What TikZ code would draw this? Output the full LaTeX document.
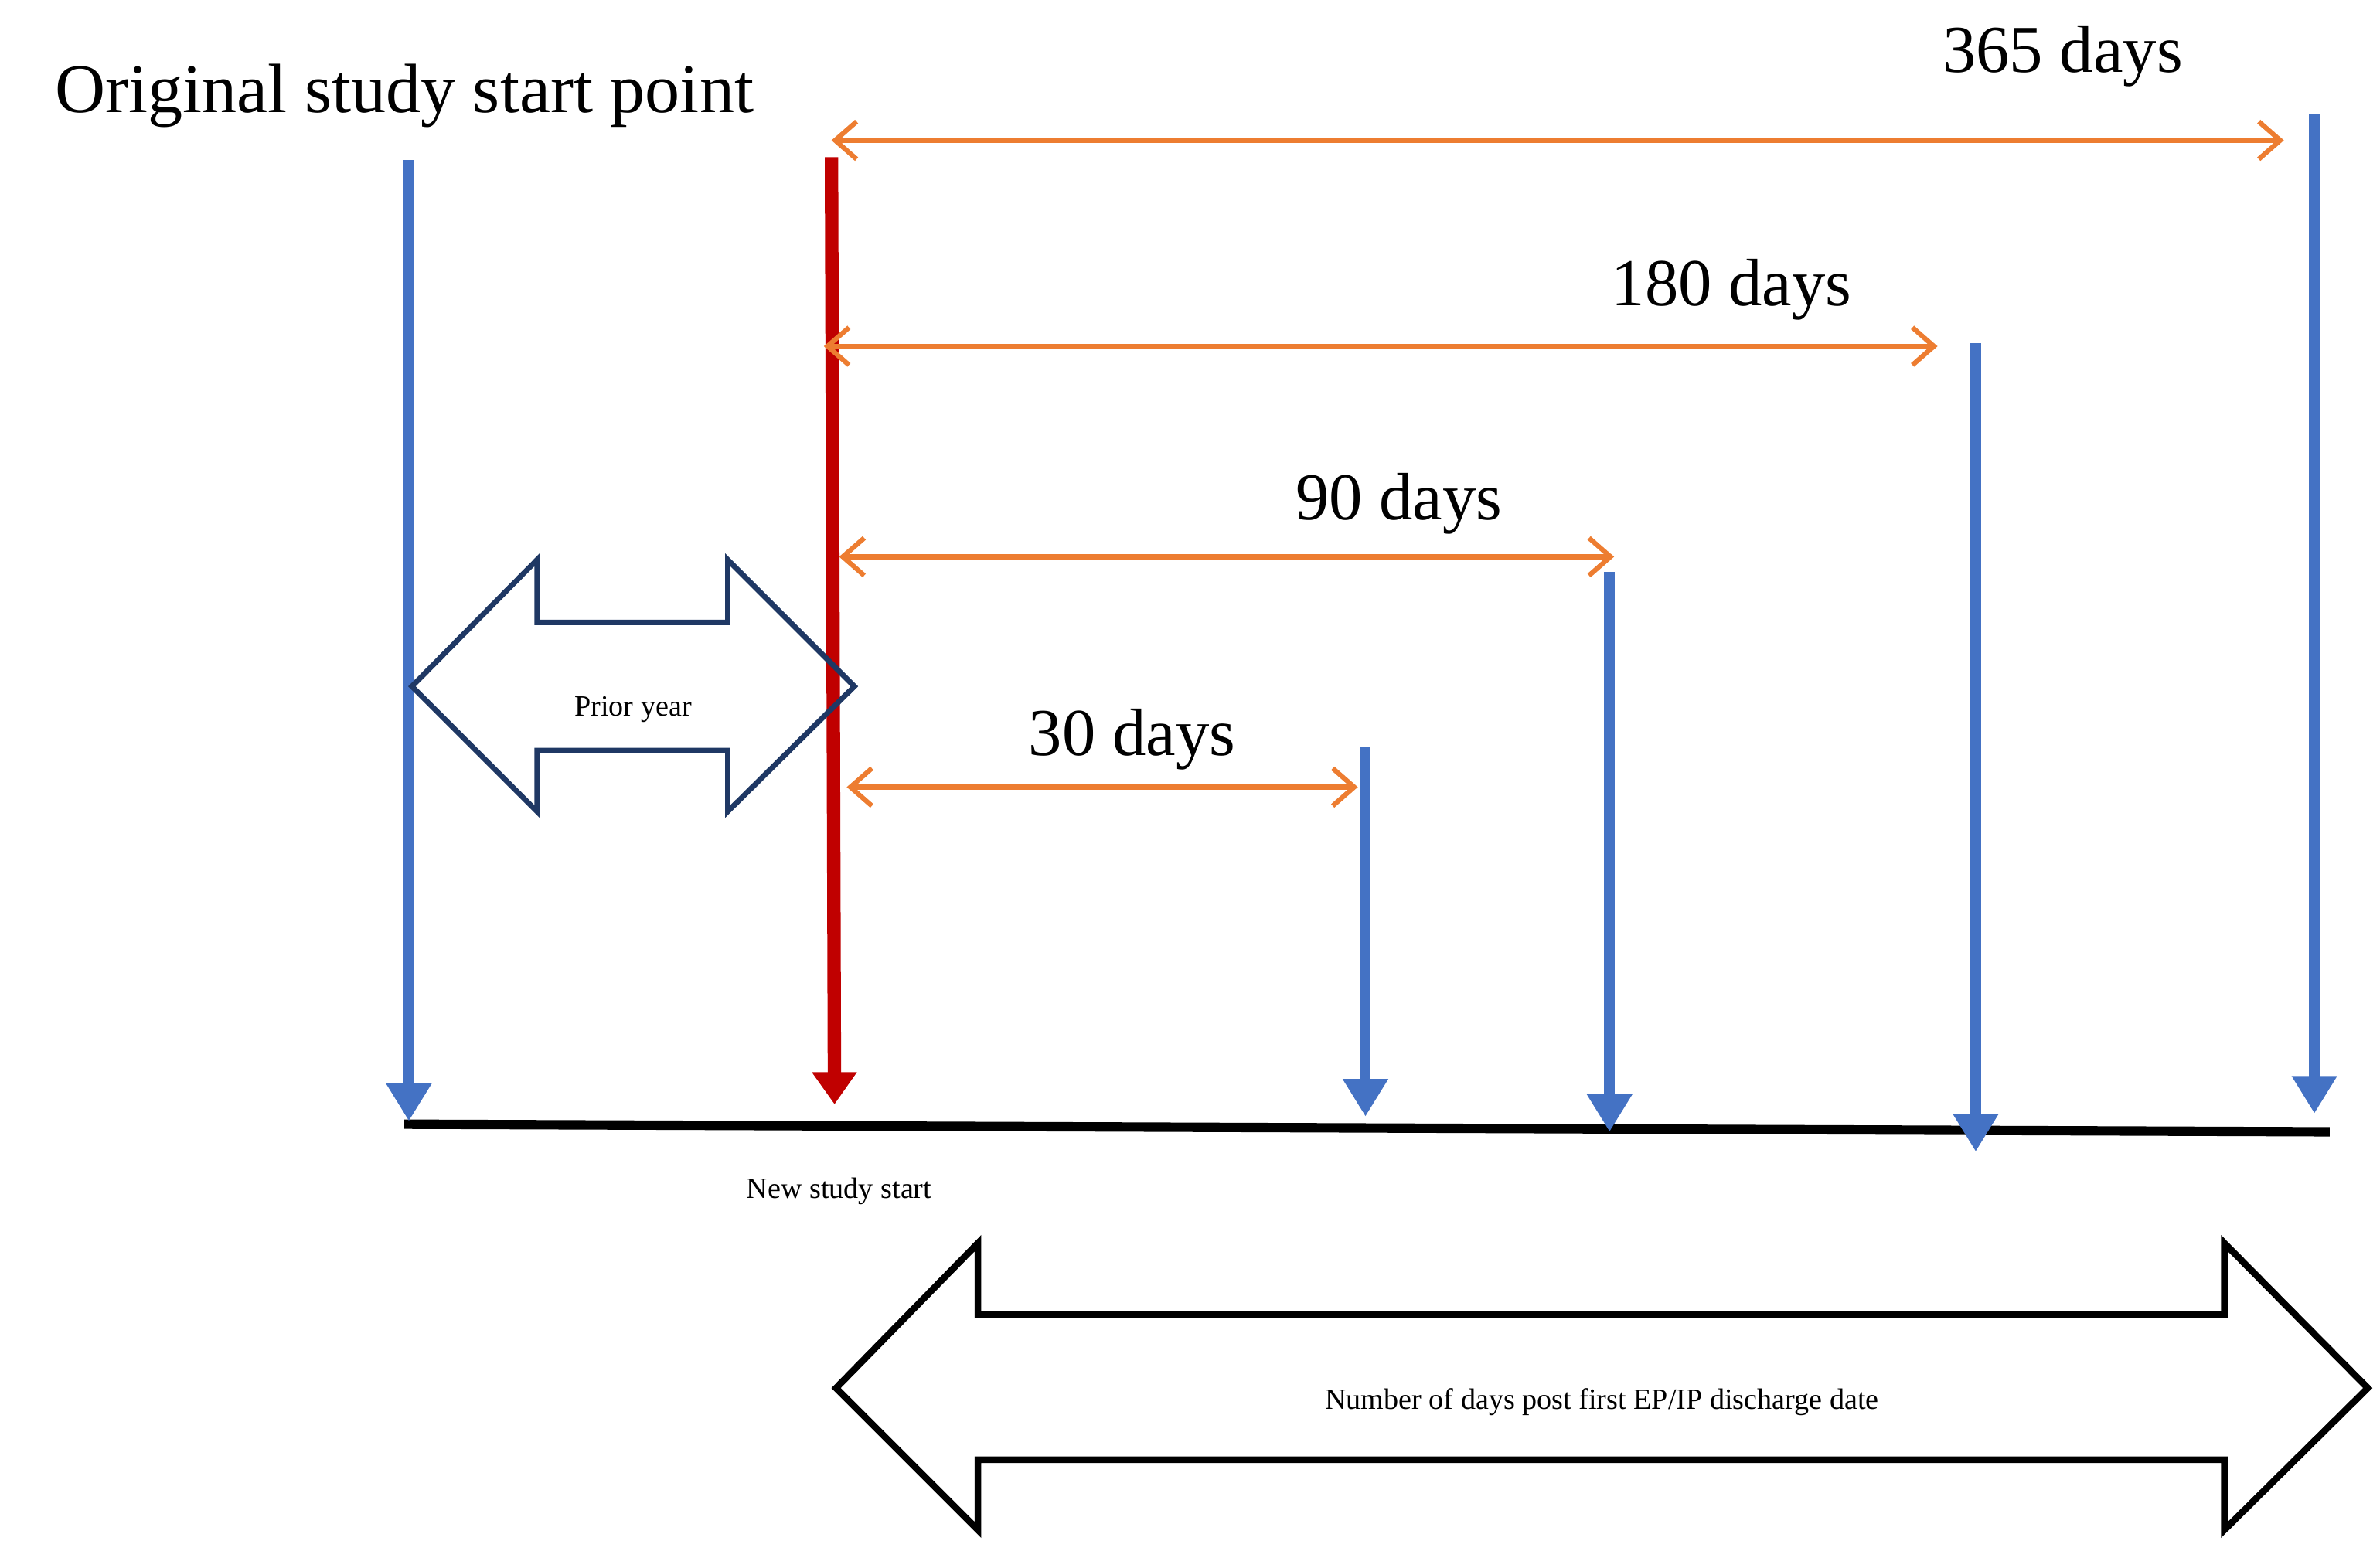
\documentclass[tikz,border=0pt]{standalone}
\usepackage{fontspec}
\setmainfont{Liberation Serif}
\usetikzlibrary{arrows.meta}
\definecolor{bl}{HTML}{4472C4}
\definecolor{rd}{HTML}{C00000}
\definecolor{og}{HTML}{ED7D31}
\definecolor{nv}{HTML}{1F3864}
\begin{document}
\begin{tikzpicture}[x=0.02cm,y=-0.02cm,
 blarrow/.style={draw=bl,line width=4pt,-{Triangle[width=16pt,length=14pt]}},
 orarrow/.style={draw=og,line width=1.8pt,{Straight Barb[length=8pt,width=14pt]}-{Straight Barb[length=8pt,width=14pt]}},
 big/.style={font=\fontsize{26}{30}\selectfont},
 dlab/.style={font=\fontsize{25}{30}\selectfont},
 small/.style={font=\fontsize{11}{13}\selectfont}]
\useasboundingbox (0,0) rectangle (1560,1021);
\node[big] (t) at (265,63) {Original study start point};
% baseline
\coordinate (b0) at (265,737); \coordinate (b1) at (1527,742);
\draw[line width=3.5pt] (b0) -- (b1);
% blue arrows
\foreach \n/\x/\ya/\yb in {a/268/105/735,b/895/490/732,c/1055/375/742,d/1295/225/755,e/1517/75/730}{
 \coordinate (\n1) at (\x,\ya); \coordinate (\n2) at (\x,\yb);
 \draw[blarrow] (\n1) -- (\n2);}
% red arrow
\coordinate (r1) at (545,103); \coordinate (r2) at (547,724);
\draw[draw=rd,line width=5pt,-{Triangle[width=16pt,length=12pt]}] (r1) -- (r2);
% orange arrows
\foreach \n/\xa/\xb/\y in {o1/545/1497/92,o2/540/1270/227,o3/550/1058/365,o4/555/890/516}{
 \coordinate (\n a) at (\xa,\y); \coordinate (\n b) at (\xb,\y);
 \draw[orarrow] (\n a) -- (\n b);}
\node[dlab] (l365) at (1352,37) {365 days};
\node[dlab] (l180) at (1135,190) {180 days};
\node[dlab] (l90) at (917,330) {90 days};
\node[dlab] (l30) at (742,485) {30 days};
% prior year arrow
\draw[nv,line width=2pt,line join=miter] (270,450) -- (352,367) -- (352,408) -- (477,408) -- (477,367) -- (560,450) -- (477,532) -- (477,492) -- (352,492) -- (352,532) -- cycle;
\node[small] (py) at (415,465) {Prior year};
\node[small] (ns) at (550,781) {New study start};
% big arrow
\draw[black,line width=2.5pt,line join=miter] (548,910) -- (641,815) -- (641,862) -- (1458,862) -- (1458,815) -- (1552,910) -- (1458,1003) -- (1458,957) -- (641,957) -- (641,1003) -- cycle;
\node[small] (nd) at (1050,919) {Number of days post first EP/IP discharge date};
\end{tikzpicture}
\end{document}
